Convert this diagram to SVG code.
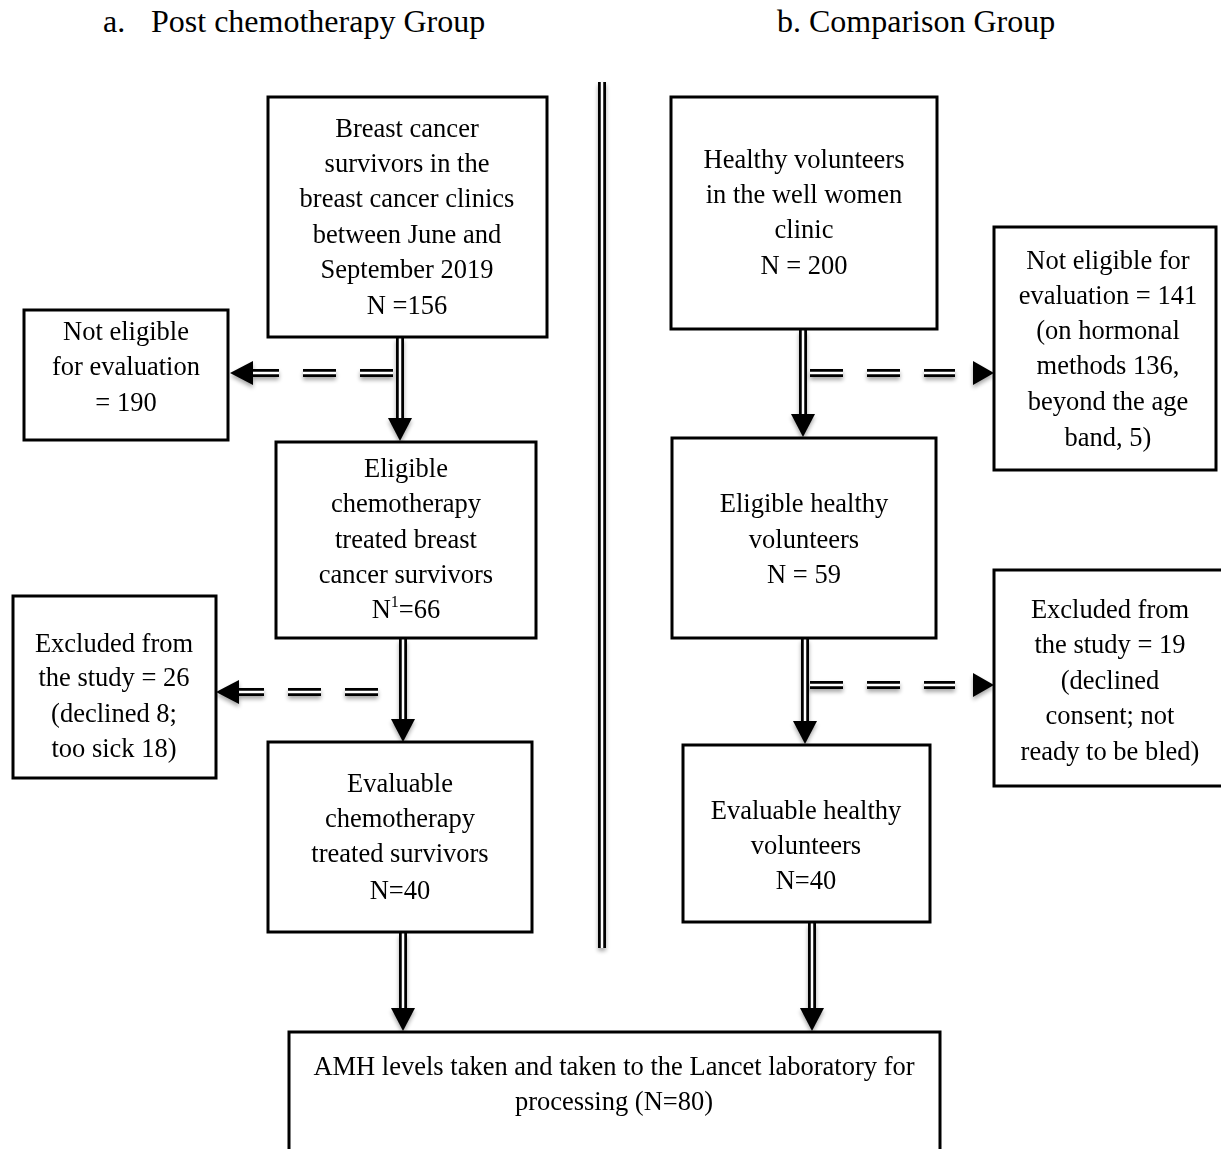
<svg xmlns="http://www.w3.org/2000/svg" width="1221" height="1149" viewBox="0 0 1221 1149">
<style>
  text { font-family: "Liberation Serif", "Times New Roman", serif; font-size: 26.5px; fill: #000; }
  .t { text-anchor: middle; }
  .title { font-size: 32px; }
  .box { fill: #fff; stroke: #000; stroke-width: 3; }
  .outer { fill: none; stroke: #000; stroke-width: 8; }
  .inner { fill: none; stroke: #fff; stroke-width: 2.5; }
  .dash { stroke-dasharray: 33 24; }
  .head { fill: #000; }
</style>
<defs>
  <filter id="sh" x="-20%" y="-20%" width="140%" height="160%">
    <feGaussianBlur in="SourceAlpha" stdDeviation="2"/>
    <feOffset dx="0" dy="3" result="b"/>
    <feComponentTransfer><feFuncA type="linear" slope="0.35"/></feComponentTransfer>
    <feMerge><feMergeNode/><feMergeNode in="SourceGraphic"/></feMerge>
  </filter>
  <polygon id="down" points="-12,0 12,0 0,23"/>
  <polygon id="left" points="0,-12 0,12 -23,0"/>
  <polygon id="right" points="0,-12 0,12 21,0"/>
</defs>
<rect width="1221" height="1149" fill="#fff"/>

<g id="titles">
  <text x="103" y="32" class="title">a.</text>
  <text x="151" y="32" class="title">Post chemotherapy Group</text>
  <text x="777" y="32" class="title">b. Comparison Group</text>
</g>

<g id="connectors" filter="url(#sh)">
  <!-- divider -->
  <path class="outer" d="M602,82 V948"/>
  <path class="inner" d="M602,82 V948"/>
  <!-- left vertical arrows -->
  <path class="outer" d="M400,338 V419"/><path class="inner" d="M400,338 V419"/>
  <use href="#down" x="400" y="418"/>
  <path class="outer" d="M403,639 V720"/><path class="inner" d="M403,639 V720"/>
  <use href="#down" x="403" y="719"/>
  <path class="outer" d="M403,933 V1009"/><path class="inner" d="M403,933 V1009"/>
  <use href="#down" x="403" y="1008"/>
  <!-- right vertical arrows -->
  <path class="outer" d="M803,330 V415"/><path class="inner" d="M803,330 V415"/>
  <use href="#down" x="803" y="414"/>
  <path class="outer" d="M805,639 V722"/><path class="inner" d="M805,639 V722"/>
  <use href="#down" x="805" y="721"/>
  <path class="outer" d="M812,923 V1009"/><path class="inner" d="M812,923 V1009"/>
  <use href="#down" x="812" y="1008"/>
  <!-- left dashed arrows -->
  <path class="outer dash" d="M393,373 H252"/><path class="inner dash" d="M393,373 H252"/>
  <use href="#left" x="253" y="373"/>
  <path class="outer dash" d="M378,692 H237"/><path class="inner dash" d="M378,692 H237"/>
  <use href="#left" x="239" y="692"/>
  <!-- right dashed arrows -->
  <path class="outer dash" d="M810,373 H955"/><path class="inner dash" d="M810,373 H955"/>
  <use href="#right" x="973" y="373"/>
  <path class="outer dash" d="M810,685 H955"/><path class="inner dash" d="M810,685 H955"/>
  <use href="#right" x="973" y="685"/>
</g>

<g id="n_breast">
  <rect class="box" x="268" y="97" width="279" height="240"/>
  <text class="t" x="407" y="137">Breast cancer</text>
  <text class="t" x="407" y="172">survivors in the</text>
  <text class="t" x="407" y="207">breast cancer clinics</text>
  <text class="t" x="407" y="243">between June and</text>
  <text class="t" x="407" y="278">September 2019</text>
  <text class="t" x="407" y="314">N =156</text>
</g>

<g id="n_notelig_left">
  <rect class="box" x="24" y="310" width="204" height="130"/>
  <text class="t" x="126" y="340">Not eligible</text>
  <text class="t" x="126" y="375">for evaluation</text>
  <text class="t" x="126" y="411">= 190</text>
</g>

<g id="n_elig_chemo">
  <rect class="box" x="276" y="442" width="260" height="196"/>
  <text class="t" x="406" y="477">Eligible</text>
  <text class="t" x="406" y="512">chemotherapy</text>
  <text class="t" x="406" y="548">treated breast</text>
  <text class="t" x="406" y="583">cancer survivors</text>
  <text class="t" x="406" y="618">N<tspan font-size="16" dy="-11">1</tspan><tspan dy="11">=66</tspan></text>
</g>

<g id="n_excl_left">
  <rect class="box" x="13" y="596" width="203" height="182"/>
  <text class="t" x="114" y="652">Excluded from</text>
  <text class="t" x="114" y="686">the study = 26</text>
  <text class="t" x="114" y="722">(declined 8;</text>
  <text class="t" x="114" y="757">too sick 18)</text>
</g>

<g id="n_eval_chemo">
  <rect class="box" x="268" y="742" width="264" height="190"/>
  <text class="t" x="400" y="792">Evaluable</text>
  <text class="t" x="400" y="827">chemotherapy</text>
  <text class="t" x="400" y="862">treated survivors</text>
  <text class="t" x="400" y="899">N=40</text>
</g>

<g id="n_healthy">
  <rect class="box" x="671" y="97" width="266" height="232"/>
  <text class="t" x="804" y="168">Healthy volunteers</text>
  <text class="t" x="804" y="203">in the well women</text>
  <text class="t" x="804" y="238">clinic</text>
  <text class="t" x="804" y="274">N = 200</text>
</g>

<g id="n_notelig_right">
  <rect class="box" x="994" y="227" width="222" height="243"/>
  <text class="t" x="1108" y="269">Not eligible for</text>
  <text class="t" x="1108" y="304">evaluation = 141</text>
  <text class="t" x="1108" y="339">(on hormonal</text>
  <text class="t" x="1108" y="374">methods 136,</text>
  <text class="t" x="1108" y="410">beyond the age</text>
  <text class="t" x="1108" y="446">band, 5)</text>
</g>

<g id="n_elig_healthy">
  <rect class="box" x="672" y="438" width="264" height="200"/>
  <text class="t" x="804" y="512">Eligible healthy</text>
  <text class="t" x="804" y="548">volunteers</text>
  <text class="t" x="804" y="583">N = 59</text>
</g>

<g id="n_excl_right">
  <rect class="box" x="994" y="570" width="230" height="216"/>
  <text class="t" x="1110" y="618">Excluded from</text>
  <text class="t" x="1110" y="653">the study = 19</text>
  <text class="t" x="1110" y="689">(declined</text>
  <text class="t" x="1110" y="724">consent; not</text>
  <text class="t" x="1110" y="760">ready to be bled)</text>
</g>

<g id="n_eval_healthy">
  <rect class="box" x="683" y="745" width="247" height="177"/>
  <text class="t" x="806" y="819">Evaluable healthy</text>
  <text class="t" x="806" y="854">volunteers</text>
  <text class="t" x="806" y="889">N=40</text>
</g>

<g id="n_amh">
  <rect class="box" x="289" y="1032" width="651" height="130"/>
  <text class="t" x="614" y="1075">AMH levels taken and taken to the Lancet laboratory for</text>
  <text class="t" x="614" y="1110">processing (N=80)</text>
</g>
</svg>
